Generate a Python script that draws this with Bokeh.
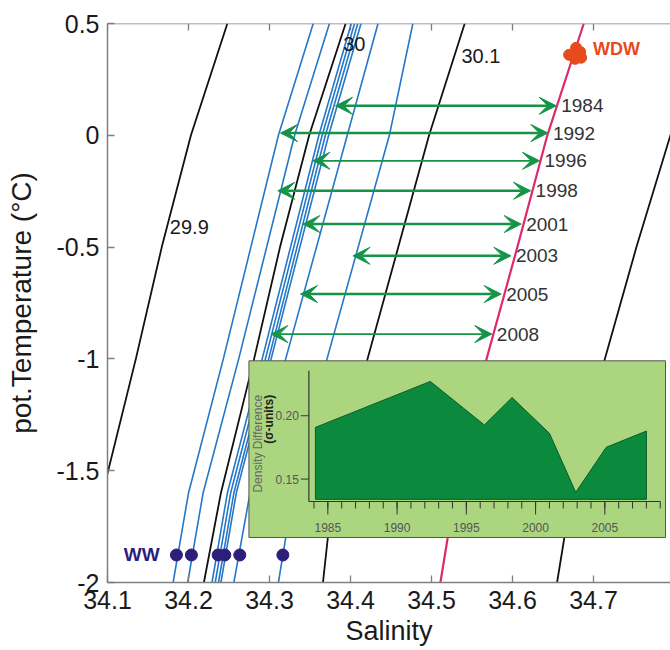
import math
from bokeh.plotting import figure
from bokeh.models import Range1d, FixedTicker, ColumnDataSource, Arrow, VeeHead, Span
from bokeh.core.properties import value
from bokeh.embed import file_html
from bokeh.resources import INLINE

# ---------------- data ----------------
x_ticks = [34.1, 34.2, 34.3, 34.4, 34.5, 34.6, 34.7]
x_tick_labels = ["34.1", "34.2", "34.3", "34.4", "34.5", "34.6", "34.7"]
y_ticks = [-2.0, -1.5, -1.0, -0.5, 0.0, 0.5]
y_tick_labels = ["-2", "-1.5", "-1", "-0.5", "0", "0.5"]

# isopycnals (salinity at given potential temperatures)
iso_T = [-2.0, -1.6, -1.0, -0.5, 0.0, 0.5]
iso_299 = [34.073, 34.094, 34.135, 34.167, 34.203, 34.248]
iso_300 = [34.219, 34.240, 34.281, 34.313, 34.349, 34.394]
iso_301 = [34.366, 34.378, 34.421, 34.459, 34.497, 34.541]
iso_303 = [34.655, 34.673, 34.714, 34.753, 34.795, 34.840]
wdw_line = [34.511, 34.529, 34.568, 34.606, 34.643, 34.688]
iso_labels = ["29.9", "30", "30.1"]
iso_label_S = [34.177, 34.391, 34.537]
iso_label_T = [-0.41, 0.407, 0.356]

# mixing lines from Winter Water
profile_T = [-2.0, -1.6, -1.0, 0.0, 0.5]
profile_S = [
    [34.181, 34.200, 34.243, 34.311, 34.354],
    [34.199, 34.218, 34.262, 34.331, 34.374],
    [34.229, 34.248, 34.291, 34.361, 34.401],
    [34.233, 34.252, 34.295, 34.365, 34.405],
    [34.237, 34.256, 34.299, 34.369, 34.409],
    [34.240, 34.259, 34.302, 34.373, 34.413],
    [34.256, 34.276, 34.320, 34.396, 34.434],
    [34.311, 34.329, 34.371, 34.448, 34.477],
]

ww_S = [34.1851, 34.2036, 34.2366, 34.2448, 34.2633, 34.3165]
ww_T = [-1.877, -1.877, -1.877, -1.877, -1.877, -1.877]
wdw_S = [34.6699, 34.6785, 34.6835, 34.6847, 34.6773]
wdw_T = [0.360, 0.391, 0.373, 0.347, 0.342]

# density-difference arrows
arrow_years = ["1984", "1992", "1996", "1998", "2001", "2003", "2005", "2008"]
arrow_T = [0.132, 0.010, -0.114, -0.248, -0.397, -0.539, -0.710, -0.889]
arrow_S_left = [34.3815, 34.3136, 34.3536, 34.3103, 34.3412, 34.4030, 34.3383, 34.3017]
arrow_S_right = [34.6540, 34.6437, 34.6334, 34.6223, 34.6107, 34.5980, 34.5860, 34.5745]
arrow_thick = [True, True, False, True, True, True, True, False]

# inset: density difference time series
inset_years = [1984.1, 1992.4, 1996.3, 1998.3, 2001.0, 2002.9, 2005.1, 2008.0]
density_diff = [0.1908, 0.2271, 0.1927, 0.2144, 0.1861, 0.1395, 0.1751, 0.1879]
inset_base = 0.134
inset_xticks = [1985, 1990, 1995, 2000, 2005]
inset_xtick_labels = ["1985", "1990", "1995", "2000", "2005"]
inset_minor = list(range(1984, 2010))
inset_yticks = [0.15, 0.20]
inset_ytick_labels = ["0.15", "0.20"]

# ---------------- layout ----------------
W, H = 670, 650
BL, BR, BT, BB = 107, 0, 23, 68
FW, FH = W - BL - BR, H - BT - BB
S_LO, S_HI = 34.1, 34.1 + FW / 810.0
T_LO, T_HI = -2.0, 0.5
FONT = "Liberation Sans"

# inset axes rectangle in main (salinity / temperature) units and its own ranges
INS_S0, INS_S1 = 34.3486, 34.7824
INS_T0, INS_T1 = -1.6377, -1.0532
YR0, YR1 = 1983.63, 2009.0
DD0, DD1 = 0.1323, 0.2355
k_yr = (YR1 - YR0) / (INS_S1 - INS_S0)
k_dd = (DD1 - DD0) / (INS_T1 - INS_T0)
yr_start, yr_end = YR0 + (S_LO - INS_S0) * k_yr, YR0 + (S_HI - INS_S0) * k_yr
dd_start, dd_end = DD0 + (T_LO - INS_T0) * k_dd, DD0 + (T_HI - INS_T0) * k_dd
yr_px = (yr_end - yr_start) / FW
dd_px = (dd_end - dd_start) / FH
s_px = (S_HI - S_LO) / FW
t_px = (T_HI - T_LO) / FH

p = figure(width=W, height=H, x_range=Range1d(S_LO, S_HI), y_range=Range1d(T_LO, T_HI),
           output_backend="svg", toolbar_location=None,
           min_border_left=BL, min_border_right=BR, min_border_top=BT, min_border_bottom=BB)
p.extra_x_ranges = {"yr": Range1d(yr_start, yr_end)}
p.extra_y_ranges = {"dd": Range1d(dd_start, dd_end)}
p.outline_line_color = None
p.xgrid.visible = False
p.ygrid.visible = False
p.background_fill_color = "white"
p.border_fill_color = "white"

AX = "#7f7f7f"
for ax in (p.xaxis[0], p.yaxis[0]):
    ax.axis_line_color = AX
    ax.axis_line_width = 1.5
    ax.major_tick_line_color = AX
    ax.major_tick_line_width = 1.3
    ax.major_tick_in = 7
    ax.major_tick_out = 0
    ax.minor_tick_line_color = None
    ax.major_label_text_font = FONT
    ax.major_label_text_font_size = "25px"
    ax.major_label_text_color = "#1a1a1a"
    ax.axis_label_text_font = FONT
    ax.axis_label_text_font_style = "normal"
    ax.axis_label_text_color = "#1a1a1a"

p.xaxis[0].ticker = FixedTicker(ticks=x_ticks)
p.xaxis[0].major_label_overrides = dict(zip(x_ticks, x_tick_labels))
p.xaxis[0].axis_label = "Salinity"
p.xaxis[0].axis_label_text_font_size = "27px"
p.xaxis[0].major_label_standoff = 8
p.xaxis[0].axis_label_standoff = 4
p.yaxis[0].ticker = FixedTicker(ticks=y_ticks)
p.yaxis[0].major_label_overrides = dict(zip(y_ticks, y_tick_labels))
p.yaxis[0].axis_label = "pot.Temperature (°C)"
p.yaxis[0].axis_label_text_font_size = "28px"
p.yaxis[0].major_label_standoff = 8
p.yaxis[0].axis_label_standoff = 16

# top frame line with inward ticks
p.add_layout(Span(location=T_HI, dimension="width", line_color=AX, line_width=1.5))
p.segment(x_ticks, [T_HI] * len(x_ticks), x_ticks, [T_HI - 7 * t_px] * len(x_ticks),
          line_color=AX, line_width=1.3)

# isopycnals
for s in (iso_299, iso_300, iso_301, iso_303):
    p.line(s, iso_T, line_color="#111111", line_width=1.8)
# mixing lines
p.multi_line([row for row in profile_S], [profile_T] * len(profile_S), line_color="#2378c8", line_width=1.6)
# WDW isopycnal (pink)
p.line(wdw_line, iso_T, line_color="#dd2a6e", line_width=2.2)

p.text(iso_label_S, iso_label_T, text=iso_labels, text_font=value(FONT), text_font_size=value("20px"),
       text_color="#1a1a1a", text_align="left", text_baseline="middle")

# water masses
p.scatter(ww_S, ww_T, size=12, fill_color="#2d1e7a", line_color="#2d1e7a")
p.scatter(wdw_S, wdw_T, size=11, fill_color="#e8491d", line_color="#e8491d")
p.text([34.1202], [-1.876], text=["WW"], text_font=value(FONT), text_font_size=value("19px"),
       text_font_style="bold", text_color="#2d1e7a", text_align="left", text_baseline="middle")
p.text([34.6993], [0.387], text=["WDW"], text_font=value(FONT), text_font_size=value("18px"),
       text_font_style="bold", text_color="#e8491d", text_align="left", text_baseline="middle")

# arrows
GREEN = "#159447"
for thick in (True, False):
    idx = [i for i, t in enumerate(arrow_thick) if t == thick]
    src = ColumnDataSource(dict(x0=[arrow_S_left[i] for i in idx], x1=[arrow_S_right[i] for i in idx],
                                y=[arrow_T[i] for i in idx]))
    lw = 2.6 if thick else 1.7
    p.add_layout(Arrow(source=src, x_start="x0", y_start="y", x_end="x1", y_end="y",
                       line_color=GREEN, line_width=lw,
                       start=VeeHead(size=17, fill_color=GREEN, line_color=GREEN, line_width=1),
                       end=VeeHead(size=17, fill_color=GREEN, line_color=GREEN, line_width=1)))
p.text([s + 5 * s_px for s in arrow_S_right], arrow_T, text=arrow_years, text_font=value(FONT),
       text_font_size=value("19px"), text_color="#333333", text_align="left", text_baseline="middle")

# ---------------- inset ----------------
p.quad(left=[34.2746], right=[34.7889], bottom=[-1.7987], top=[-1.0085],
       fill_color="#abd67f", line_color="#555555", line_width=1)
R = dict(x_range_name="yr", y_range_name="dd")
p.patch([inset_years[0]] + inset_years + [inset_years[-1]], [inset_base] + density_diff + [inset_base],
        fill_color="#0b8a3e", line_color="#0a5a2a", line_width=1, **R)
IC = "#333333"
p.segment([YR0, YR0], [DD0, DD0], [YR1, YR0], [DD0, DD1], line_color=IC, line_width=1.2, **R)
p.segment(inset_minor, [DD0] * len(inset_minor), inset_minor, [DD0 - 7 * dd_px] * len(inset_minor),
          line_color=IC, line_width=1, **R)
p.segment(inset_xticks, [DD0] * len(inset_xticks), inset_xticks, [DD0 - 13 * dd_px] * len(inset_xticks),
          line_color=IC, line_width=1, **R)
p.segment([YR0] * len(inset_yticks), inset_yticks, [YR0 - 8 * yr_px] * len(inset_yticks), inset_yticks,
          line_color=IC, line_width=1, **R)
p.text(inset_xticks, [DD0 - 26 * dd_px] * len(inset_xticks), text=inset_xtick_labels,
       text_font=value(FONT), text_font_size=value("12px"), text_color="#555555",
       text_align="center", text_baseline="middle", **R)
p.text([YR0 - 10 * yr_px] * len(inset_yticks), inset_yticks, text=inset_ytick_labels,
       text_font=value(FONT), text_font_size=value("12px"), text_color="#555555",
       text_align="right", text_baseline="middle", **R)
p.text([34.2857], [-1.1605], text=["Density Difference"], angle=math.pi / 2, text_font=value(FONT),
       text_font_size=value("12px"), text_color="#666666", text_align="right", text_baseline="middle")
p.text([34.2996], [-1.1605], text=["(σ-units)"], angle=math.pi / 2, text_font=value(FONT),
       text_font_size=value("12px"), text_font_style="bold", text_color="#222222",
       text_align="right", text_baseline="middle")

open("out.html", "w").write(file_html(p, INLINE))
